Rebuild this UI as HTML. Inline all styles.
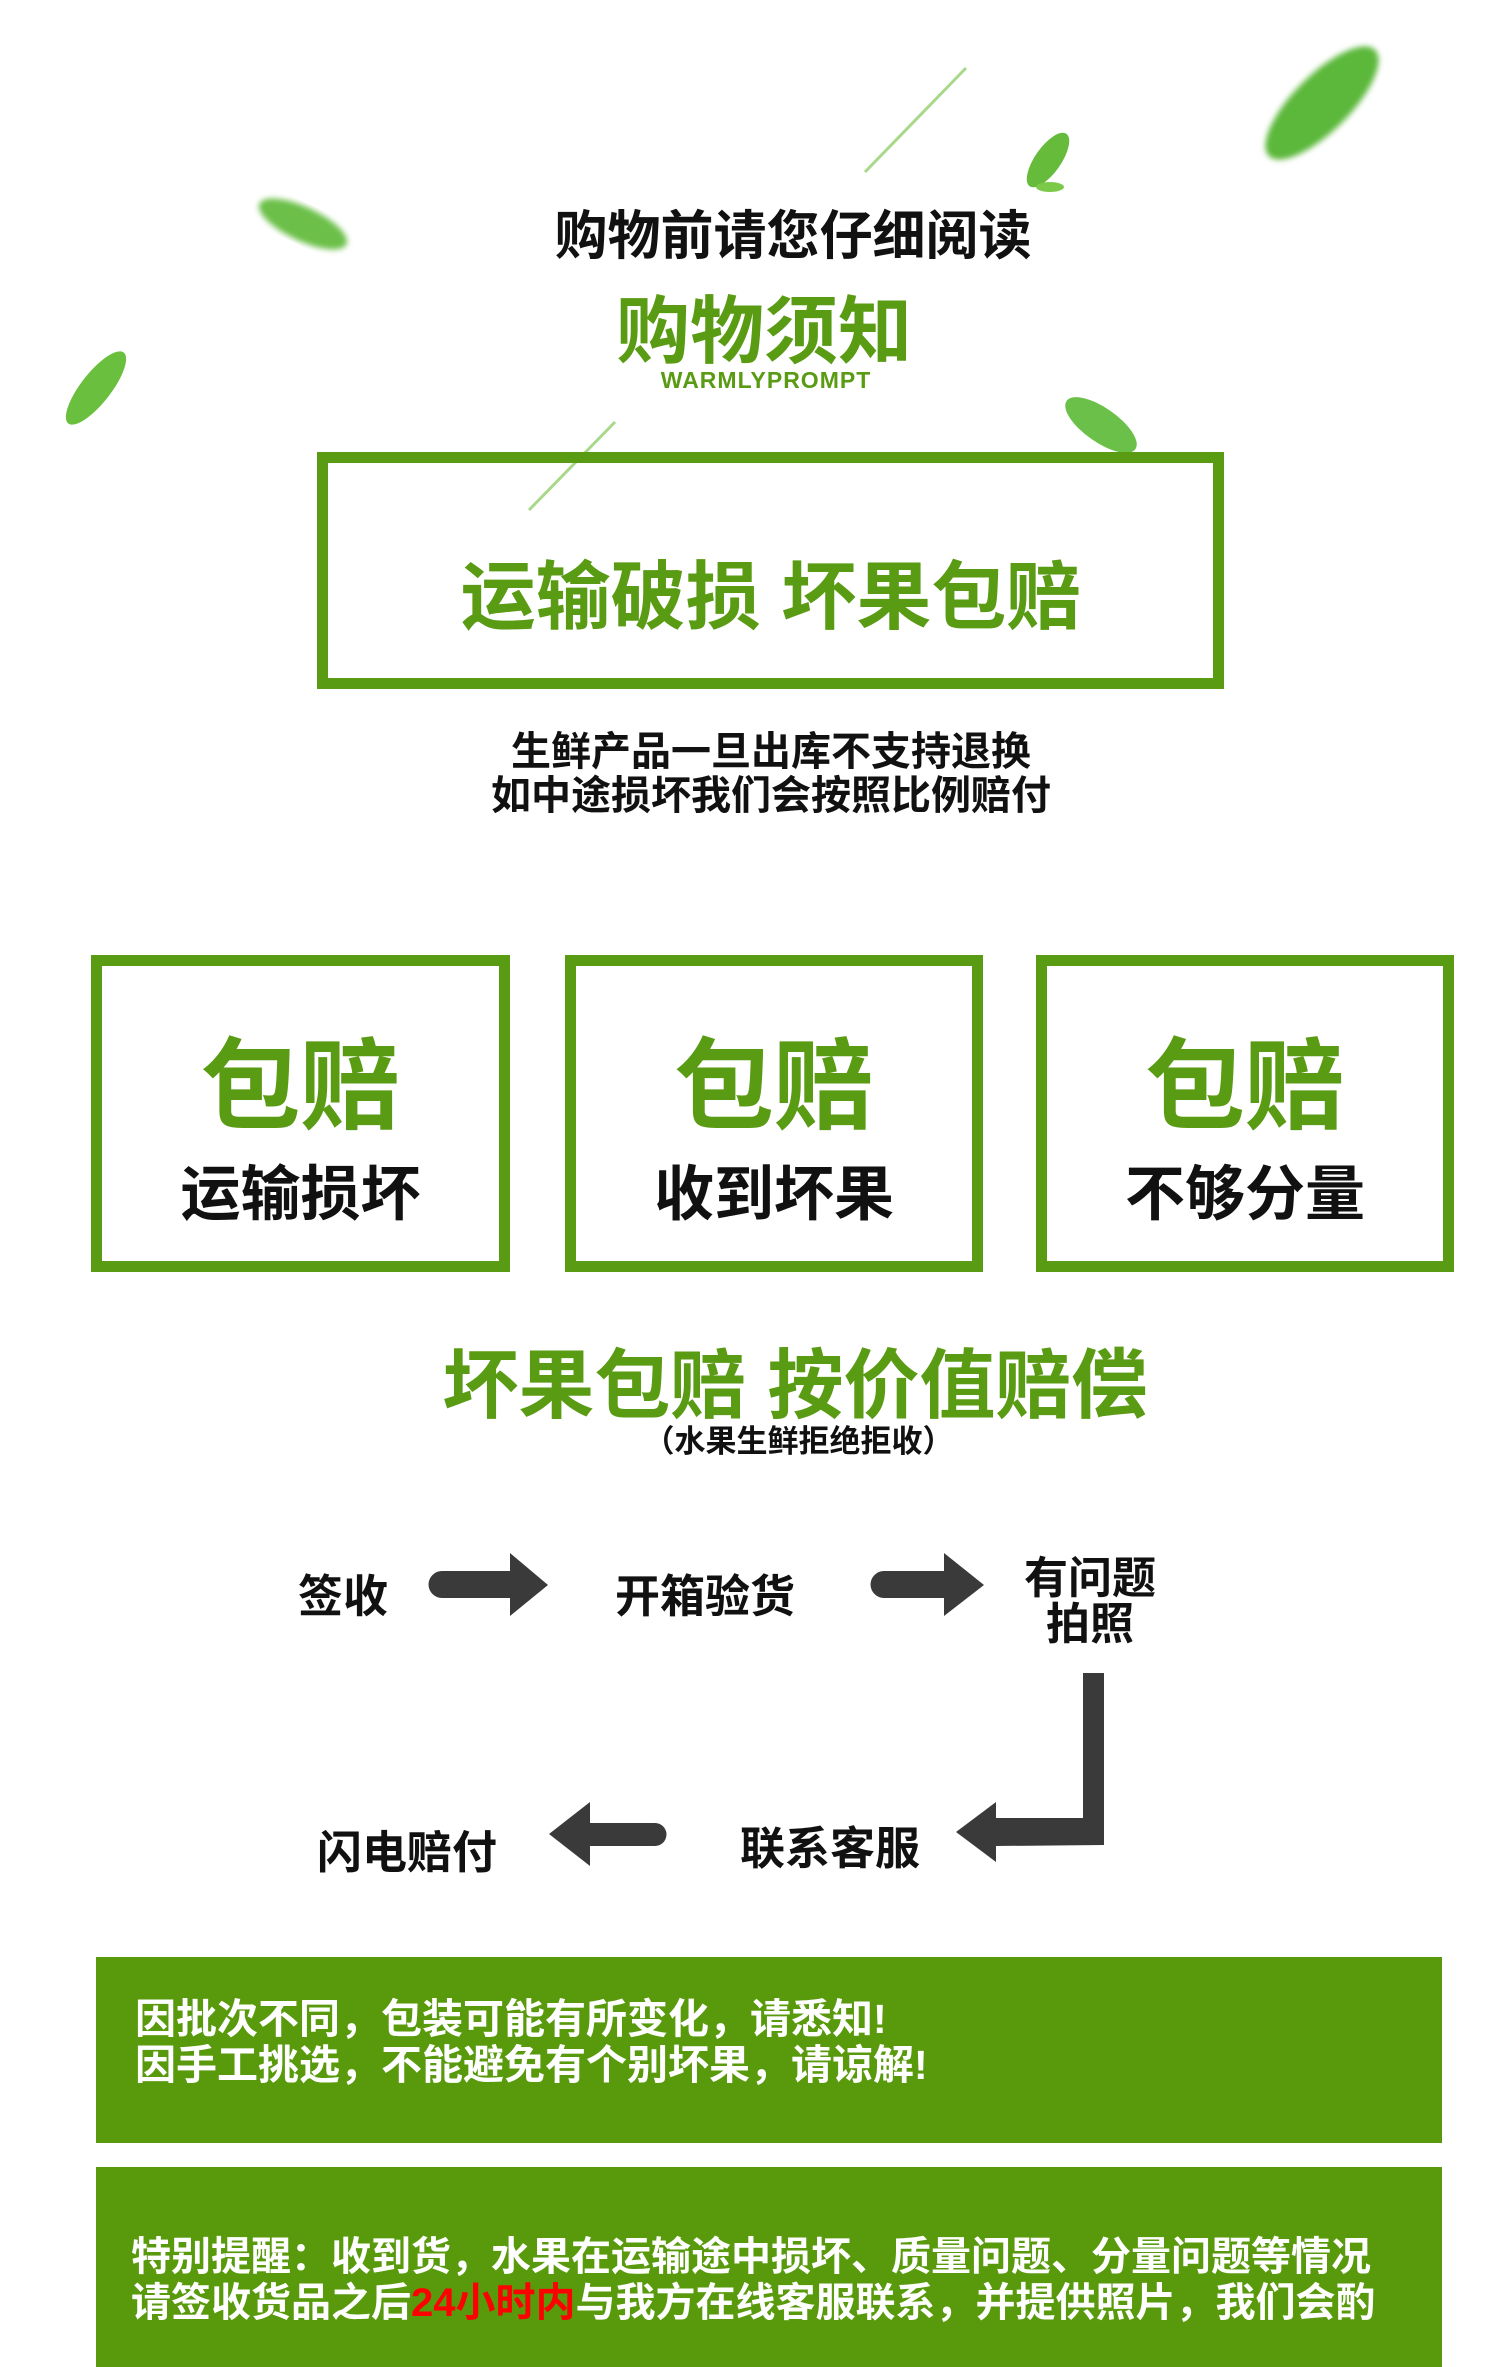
<!DOCTYPE html>
<html><head><meta charset="utf-8"><style>
*{margin:0;padding:0;box-sizing:border-box}
body{width:1500px;height:2322px;background:#fff;position:relative;overflow:hidden;font-family:"Liberation Sans","Noto Sans CJK SC",sans-serif;font-weight:bold}
.a{position:absolute;white-space:nowrap}
.g{color:#5a9b14}
.box{position:absolute;border:11px solid #5a9b14}
.gb{position:absolute;background:#589a0c;left:96px;width:1346px}
</style></head><body>
<svg class="a" style="left:0;top:0" width="1500" height="560">
<defs><filter id="b"><feGaussianBlur stdDeviation="3"/></filter></defs>
<line x1="966" y1="68" x2="865" y2="172" stroke="#a8d88a" stroke-width="3"/>
<line x1="615" y1="422" x2="529" y2="510" stroke="#a8d88a" stroke-width="3"/>
<ellipse cx="1322" cy="103" rx="75" ry="28" transform="rotate(-45 1322 103)" fill="#5cb83a" filter="url(#b)"/>
<ellipse cx="1048" cy="160" rx="32" ry="13" transform="rotate(-55 1048 160)" fill="#66bb3a"/>
<ellipse cx="1050" cy="187" rx="14" ry="5" fill="#7cc94a"/>
<ellipse cx="303" cy="224" rx="48" ry="17" transform="rotate(25 303 224)" fill="#6cc048" filter="url(#b)"/>
<ellipse cx="96" cy="388" rx="45" ry="15" transform="rotate(-52 96 388)" fill="#6ac03e"/>
<ellipse cx="1101" cy="425" rx="42" ry="17" transform="rotate(35 1101 425)" fill="#6ac048"/>
</svg>
<div class="a" style="left:0;width:1586px;text-align:center;top:194px;font-size:53px;color:#111">购物前请您仔细阅读</div>
<div class="a g" style="left:0;width:1528px;text-align:center;top:272px;font-size:74px">购物须知</div>
<div class="a g" style="left:0;width:1532px;text-align:center;top:367px;font-size:23px;letter-spacing:1px">WARMLYPROMPT</div>
<div class="box" style="left:317px;top:452px;width:907px;height:237px"></div>
<div class="a g" style="left:0;width:1542px;text-align:center;top:536px;font-size:75px">运输破损 坏果包赔</div>
<div class="a" style="left:0;width:1542px;text-align:center;top:730px;font-size:40px;line-height:44px;color:#111">生鲜产品一旦出库不支持退换<br>如中途损坏我们会按照比例赔付</div>

<div class="box" style="left:91px;top:955px;width:419px;height:317px"></div>
<div class="box" style="left:565px;top:955px;width:418px;height:317px"></div>
<div class="box" style="left:1036px;top:955px;width:418px;height:317px"></div>
<div class="a g" style="left:91px;width:419px;text-align:center;top:1005px;font-size:100px">包赔</div>
<div class="a g" style="left:565px;width:418px;text-align:center;top:1005px;font-size:100px">包赔</div>
<div class="a g" style="left:1036px;width:418px;text-align:center;top:1005px;font-size:100px">包赔</div>
<div class="a" style="left:91px;width:419px;text-align:center;top:1146px;font-size:60px;color:#111">运输损坏</div>
<div class="a" style="left:565px;width:418px;text-align:center;top:1146px;font-size:60px;color:#111">收到坏果</div>
<div class="a" style="left:1036px;width:418px;text-align:center;top:1146px;font-size:60px;color:#111">不够分量</div>

<div class="a g" style="left:0;width:1590px;text-align:center;top:1324px;font-size:76px">坏果包赔 按价值赔偿</div>
<div class="a" style="left:0;width:1597px;text-align:center;top:1416px;font-size:31px;color:#111">（水果生鲜拒绝拒收）</div>

<div class="a" style="left:298px;top:1560px;font-size:45px;color:#111">签收</div>
<div class="a" style="left:615px;top:1560px;font-size:45px;color:#111">开箱验货</div>
<div class="a" style="left:1024px;top:1556px;font-size:44px;line-height:46px;color:#111;text-align:center">有问题<br>拍照</div>
<div class="a" style="left:740px;top:1812px;font-size:45px;color:#111">联系客服</div>
<div class="a" style="left:317px;top:1816px;font-size:45px;color:#111">闪电赔付</div>
<svg class="a" style="left:0;top:1540px" width="1500" height="340">
<g fill="#3a3a3a">
<path d="M442 31 L510 31 L510 13 L548 45 L510 76 L510 58 L442 58 A13.5 13.5 0 0 1 442 31Z"/>
<path d="M884 31 L944 31 L944 13 L984 45 L944 76 L944 58 L884 58 A13.5 13.5 0 0 1 884 31Z"/>
<path d="M1083 133 L1104 133 L1104 305 L996 306 L996 322 L956 292 L996 262 L996 278 L1083 278Z"/>
<path d="M655 283 L590 283 L590 262 L549 294 L590 326 L590 306 L655 306 A11.5 11.5 0 0 0 655 283Z"/>
</g></svg>

<div class="gb" style="top:1957px;height:186px"></div>
<div class="a" style="left:135px;top:1996px;font-size:41px;line-height:46px;color:#fff">因批次不同，包装可能有所变化，请悉知!<br>因手工挑选，不能避免有个别坏果，请谅解!</div>
<div class="gb" style="top:2167px;height:200px"></div>
<div class="a" style="left:131px;top:2234px;font-size:40px;line-height:46px;color:#fff">特别提醒：收到货，水果在运输途中损坏、质量问题、分量问题等情况<br>请签收货品之后<span style="color:#f00">24小时内</span>与我方在线客服联系，并提供照片，我们会酌</div>
</body></html>
